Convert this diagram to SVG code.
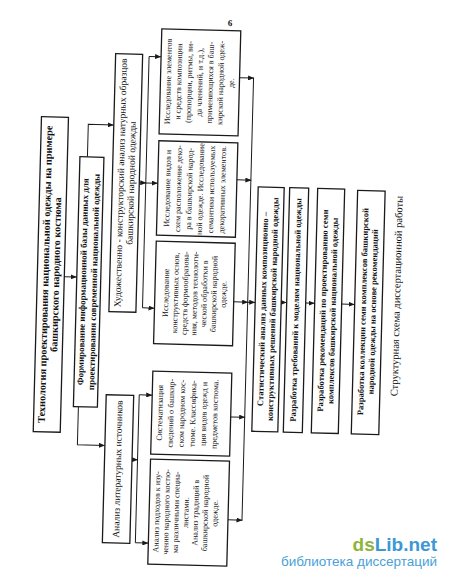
<svg xmlns="http://www.w3.org/2000/svg" width="450" height="582" viewBox="0 0 450 582">
<style>
.bg{fill:#fff}
.box{fill:none;stroke:#1a1a1a;stroke-width:1.3}
.ln{fill:none;stroke:#1a1a1a;stroke-width:1}
.ar{fill:none;stroke:#1a1a1a;stroke-width:1;marker-end:url(#ah)}
text{font-family:"Liberation Serif","Times New Roman",serif;fill:#111;text-anchor:middle}
.t1{font-size:10.3px;font-weight:bold}
.t2{font-size:9px;font-weight:bold}
.t3{font-size:9.5px}
.t4{font-size:8.1px}
.t5{font-size:8.6px;font-weight:bold}
.cap{font-size:10.5px}
.pg{font-size:9px;font-weight:bold}
.wm{font-family:"Liberation Sans",Arial,sans-serif;text-anchor:end}
</style>
<defs>
<marker id="ah" markerUnits="userSpaceOnUse" markerWidth="6" markerHeight="5" refX="6" refY="2.5" orient="auto">
<path d="M0,0 L6,2.5 L0,5 z" fill="#1a1a1a"/>
</marker>
</defs>
<rect class="bg" x="0" y="0" width="450" height="582"/>
<g transform="rotate(1.5 225 290)">
<text class="pg" x="223" y="26">6</text>
<g id="n-title">
<rect class="box" x="37" y="121.5" width="27" height="315"/>
<text class="t1" transform="translate(48.2,279) rotate(-90)"><tspan x="0" y="0">Технология проектирования национальной одежды на примере</tspan><tspan x="0" y="10.7">башкирского народного костюма</tspan></text>
</g>
<g id="n-form">
<rect class="box" x="76.5" y="160.5" width="24" height="250"/>
<text class="t2" transform="translate(85.7,285.5) rotate(-90)"><tspan x="0" y="0">Формирование информационной базы данных для</tspan><tspan x="0" y="11">проектирования современной национальной одежды</tspan></text>
</g>
<g id="n-hud">
<rect class="box" x="109.5" y="56.6" width="27" height="258"/>
<text class="t3" transform="translate(120.9,185.6) rotate(-90)"><tspan x="0" y="0">Художественно - конструкторский анализ натурных образцов</tspan><tspan x="0" y="10.5">башкирской народной одежды</tspan></text>
</g>
<g id="n-lit">
<rect class="box" x="109" y="397.8" width="27.5" height="148"/>
<text class="t3" transform="translate(125.5,471.8) rotate(-90)"><tspan x="0" y="0">Анализ литературных источников</tspan></text>
</g>
<g id="n-elem">
<rect class="box" x="155" y="30.6" width="79" height="105"/>
<text class="t4" transform="translate(165.4,83) rotate(-90)"><tspan x="0" y="0">Исследование элементов</tspan><tspan x="0" y="10.5">и средств композиции</tspan><tspan x="0" y="21">(пропорции, ритмы, ви-</tspan><tspan x="0" y="31.5">да членений, и т.д.),</tspan><tspan x="0" y="42">применяющихся в баш-</tspan><tspan x="0" y="52.5">кирской народной одеж-</tspan><tspan x="0" y="63">де.</tspan></text>
</g>
<g id="n-vid">
<rect class="box" x="155" y="142.5" width="79" height="94.5"/>
<text class="t4" transform="translate(167.4,189.8) rotate(-90)"><tspan x="0" y="0">Исследование видов и</tspan><tspan x="0" y="11">схем расположение деко-</tspan><tspan x="0" y="22">ра в башкирской народ-</tspan><tspan x="0" y="33">ной одежде. Исследование</tspan><tspan x="0" y="44">семантики используемых</tspan><tspan x="0" y="55">декоративных элементов.</tspan></text>
</g>
<g id="n-konstr">
<rect class="box" x="155" y="243" width="79" height="102.5"/>
<text class="t4" transform="translate(168.6,294.3) rotate(-90)"><tspan x="0" y="0">Исследование</tspan><tspan x="0" y="9.6">конструктивных основ,</tspan><tspan x="0" y="19.2">средств формообразова-</tspan><tspan x="0" y="28.8">ния, методов технологи-</tspan><tspan x="0" y="38.4">ческой обработки в</tspan><tspan x="0" y="48">башкирской народной</tspan><tspan x="0" y="57.6">одежде.</tspan></text>
</g>
<g id="n-sist">
<rect class="box" x="155" y="373" width="79" height="83"/>
<text class="t4" transform="translate(165.7,414.5) rotate(-90)"><tspan x="0" y="0">Систематизация</tspan><tspan x="0" y="11">сведений о башкир-</tspan><tspan x="0" y="22">ском народном кос-</tspan><tspan x="0" y="33">тюме. Классифика-</tspan><tspan x="0" y="44">ция видов одежд и</tspan><tspan x="0" y="55">предметов костюма.</tspan></text>
</g>
<g id="n-podh">
<rect class="box" x="155" y="461" width="79" height="105"/>
<text class="t4" transform="translate(165.2,513.5) rotate(-90)"><tspan x="0" y="0">Анализ подходов к изу-</tspan><tspan x="0" y="9.7">чению народного костю-</tspan><tspan x="0" y="19.4">ма различными специа-</tspan><tspan x="0" y="29.1">листами.</tspan><tspan x="0" y="38.8">Анализ традиций в</tspan><tspan x="0" y="48.5">башкирской народной</tspan><tspan x="0" y="58.2">одежде.</tspan></text>
</g>
<g id="n-stat">
<rect class="box" x="255.5" y="186" width="26" height="244.5"/>
<text class="t5" transform="translate(266.1,308) rotate(-90)"><tspan x="0" y="0">Статистический анализ данных композиционно –</tspan><tspan x="0" y="10">конструктивных решений башкирской народной одежды</tspan></text>
</g>
<g id="n-treb">
<rect class="box" x="287" y="186" width="19" height="244.5"/>
<text class="t5" transform="translate(299.1,308) rotate(-90)"><tspan x="0" y="0">Разработка требований к моделям национальной одежды</tspan></text>
</g>
<g id="n-rek">
<rect class="box" x="315" y="186" width="27" height="244.5"/>
<text class="t5" transform="translate(326.1,308) rotate(-90)"><tspan x="0" y="0">Разработка рекомендаций по проектированию семи</tspan><tspan x="0" y="10">комплексов башкирской национальной одежды</tspan></text>
</g>
<g id="n-koll">
<rect class="box" x="355" y="187" width="27.5" height="243.5"/>
<text class="t5" transform="translate(366.3,308) rotate(-90)"><tspan x="0" y="0">Разработка коллекции семи комплексов башкирской</tspan><tspan x="0" y="10">народной одежды на основе рекомендаций</tspan></text>
</g>
<text class="cap" transform="translate(400.2,291.5) rotate(-90)">Структурная схема диссертационной работы</text>
<g id="connectors">
<path class="ar" d="M64,281 H76.5"/>
<path class="ar" d="M84,160.5 V128 H109.5"/>
<path class="ar" d="M81.5,410.5 V448.5 H109"/>
<path class="ln" d="M143,58.5 V310"/>
<path class="ar" d="M143,58.5 H155"/>
<path class="ar" d="M136.5,185 H143.5"/>
<path class="ar" d="M143,185 H155"/>
<path class="ar" d="M143,310 H155"/>
<path class="ln" d="M142,397 V545"/>
<path class="ar" d="M136.5,462 H142.5"/>
<path class="ar" d="M142,397 H155"/>
<path class="ar" d="M142,545 H155"/>
<path class="ln" d="M248,77.4 V519.7"/>
<path class="ar" d="M234,77.4 H248.5"/>
<path class="ar" d="M234,179.6 H248.5"/>
<path class="ar" d="M234,301.6 H248.5"/>
<path class="ar" d="M234,416.7 H248.5"/>
<path class="ar" d="M234,519.7 H248.5"/>
<path class="ar" d="M248,301.6 H255.5"/>
<path class="ar" d="M281.5,301 H287"/>
<path class="ar" d="M306,301 H315"/>
<path class="ar" d="M342,301 H355"/>
</g>
</g>
<text class="wm" x="437" y="551" style="font-size:19px;font-weight:bold"><tspan fill="#8db43c">ds</tspan><tspan fill="#3b98d4">Lib.net</tspan></text>
<text class="wm" x="437" y="566" style="font-size:13.5px;fill:#4a9fd6">библиотека диссертаций</text>
</svg>
